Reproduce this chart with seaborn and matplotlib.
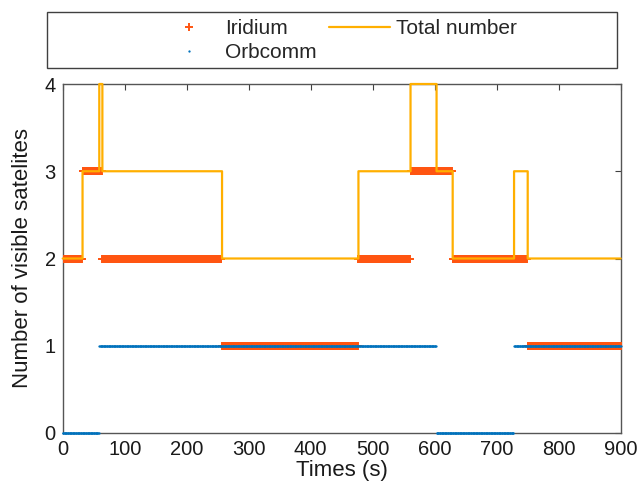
import numpy as np
import pandas as pd
import matplotlib
matplotlib.use("Agg")
import matplotlib.pyplot as plt
from matplotlib.patches import Rectangle
import seaborn as sns

# ---- data ----
t_end = 900
iridium_change_times = [0, 32, 64, 257, 477, 561, 629, 750]
iridium_counts = [2, 3, 2, 1, 2, 3, 2, 1]
orbcomm_change_times = [0, 59, 603, 728]
orbcomm_counts = [0, 1, 0, 1]
x_ticks = [0, 100, 200, 300, 400, 500, 600, 700, 800, 900]
y_ticks = [0, 1, 2, 3, 4]


def expand(change_times, counts, t):
    idx = np.searchsorted(change_times, t, side="right") - 1
    return np.asarray(counts)[idx]


t = np.arange(0, t_end + 1)
iridium = expand(iridium_change_times, iridium_counts, t)
orbcomm = expand(orbcomm_change_times, orbcomm_counts, t)
total = iridium + orbcomm
df = pd.DataFrame({"t": t, "Iridium": iridium, "Orbcomm": orbcomm, "Total": total})

# ---- style ----
sns.set_style("white")
plt.rcParams["font.family"] = ["Liberation Sans", "DejaVu Sans"]
FS_TICK = 14.5
FS_LABEL = 16
FS_LEG = 15

fig = plt.figure(figsize=(6.38, 4.95), dpi=100)
ax = fig.add_axes([62.7 / 638, 62 / 495, 558 / 638, 349 / 495])

c_ir = "#FF5511"
c_orb = "#0072BD"
c_tot = "#FFAF00"

sns.lineplot(data=df, x="t", y="Iridium", ax=ax, estimator=None, errorbar=None,
             sort=False, linestyle="none", marker="+", markersize=5.5,
             markeredgewidth=1.4, markeredgecolor=c_ir, color=c_ir,
             label="Iridium", zorder=2)
sns.lineplot(data=df, x="t", y="Orbcomm", ax=ax, estimator=None, errorbar=None,
             sort=False, linestyle="none", marker=".", markersize=3.3,
             markeredgewidth=0, markerfacecolor=c_orb, color=c_orb,
             label="Orbcomm", clip_on=False, zorder=3)
sns.lineplot(data=df, x="t", y="Total", ax=ax, estimator=None, errorbar=None,
             sort=False, drawstyle="steps-post", linewidth=1.6,
             color=c_tot, label="Total number", clip_on=False, zorder=4)

ax.set_xlim(0, 900)
ax.set_ylim(0, 4)
ax.set_xticks(x_ticks)
ax.set_yticks(y_ticks)
ax.set_xlabel("Times (s)", fontsize=FS_LABEL, color="#1a1a1a", labelpad=1)
ax.set_ylabel("Number of visible satelites", fontsize=FS_LABEL, color="#1a1a1a", labelpad=8)
ax.tick_params(direction="in", length=4.5, width=0.8, top=True, right=True,
               labelsize=FS_TICK, colors="#404040", labelcolor="#1a1a1a", pad=5)
for s in ax.spines.values():
    s.set_visible(True)
    s.set_color("#555555")
    s.set_linewidth(1.0)
    s.set_zorder(1)

# legend above the axes
handles, labels = ax.get_legend_handles_labels()
if ax.legend_:
    ax.legend_.remove()
leg = fig.legend(handles, labels, ncol=2, loc="center",
                 bbox_to_anchor=(337.5 / 638, 1 - 40.5 / 495), frameon=False,
                 fontsize=FS_LEG, handlelength=2.93, handletextpad=0.27,
                 columnspacing=0.63, labelspacing=0.22, markerscale=1.0)
fig.patches.append(Rectangle((47 / 638, 1 - 68 / 495), (617 - 47) / 638, 56 / 495,
                             transform=fig.transFigure, fill=False,
                             edgecolor="#404040", linewidth=1.0))

fig.savefig("out.png", dpi=100)
